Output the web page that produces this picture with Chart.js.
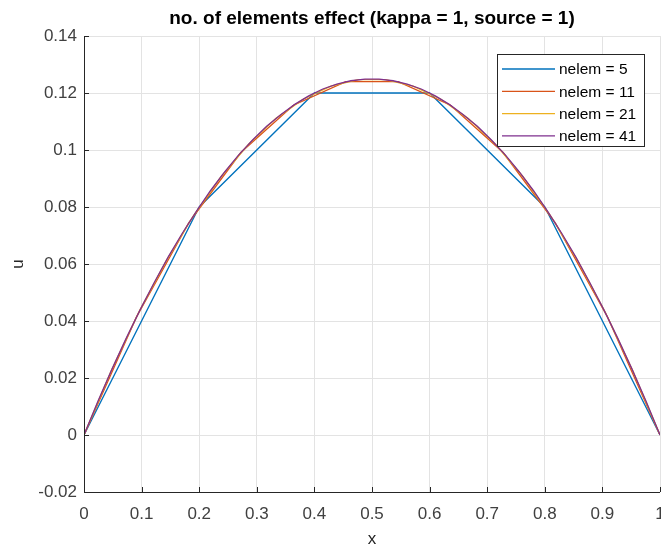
<!DOCTYPE html>
<html>
<head>
<meta charset="utf-8">
<script src="https://cdn.jsdelivr.net/npm/chart.js@4.4.0/dist/chart.umd.min.js"></script>
<style>
  html, body { margin: 0; padding: 0; background: #fff; }
  #wrap { width: 661px; height: 548px; }
</style>
</head>
<body>
<div id="wrap"><canvas id="myChart" width="661" height="548"></canvas></div>
<script>
// node positions and values
const x5 = [0, 0.2, 0.4, 0.6, 0.8, 1]
const u5 = [0, 0.08, 0.12, 0.12, 0.08, 0]

const x11 = [0, 0.0909, 0.1818, 0.2727, 0.3636, 0.4545, 0.5455, 0.6364, 0.7273, 0.8182, 0.9091, 1]
const u11 = [0, 0.0413, 0.0744, 0.0992, 0.1157, 0.1240, 0.1240, 0.1157, 0.0992, 0.0744, 0.0413, 0]

const x21 = [0, 0.0476, 0.0952, 0.1429, 0.1905, 0.2381, 0.2857, 0.3333, 0.3810, 0.4286, 0.4762,
  0.5238, 0.5714, 0.6190, 0.6667, 0.7143, 0.7619, 0.8095, 0.8571, 0.9048, 0.9524, 1]
const u21 = [0, 0.0227, 0.0431, 0.0612, 0.0771, 0.0907, 0.1020, 0.1111, 0.1179, 0.1224, 0.1247,
  0.1247, 0.1224, 0.1179, 0.1111, 0.1020, 0.0907, 0.0771, 0.0612, 0.0431, 0.0227, 0]

const x41 = [0, 0.0244, 0.0488, 0.0732, 0.0976, 0.1220, 0.1463, 0.1707, 0.1951, 0.2195, 0.2439,
  0.2683, 0.2927, 0.3171, 0.3415, 0.3659, 0.3902, 0.4146, 0.4390, 0.4634, 0.4878,
  0.5122, 0.5366, 0.5610, 0.5854, 0.6098, 0.6341, 0.6585, 0.6829, 0.7073, 0.7317,
  0.7561, 0.7805, 0.8049, 0.8293, 0.8537, 0.8780, 0.9024, 0.9268, 0.9512, 0.9756, 1]
const u41 = [0, 0.0119, 0.0232, 0.0339, 0.0440, 0.0535, 0.0625, 0.0708, 0.0785, 0.0857, 0.0922,
  0.0982, 0.1035, 0.1083, 0.1124, 0.1160, 0.1190, 0.1214, 0.1231, 0.1243, 0.1249,
  0.1249, 0.1243, 0.1231, 0.1214, 0.1190, 0.1160, 0.1124, 0.1083, 0.1035, 0.0982,
  0.0922, 0.0857, 0.0785, 0.0708, 0.0625, 0.0535, 0.0440, 0.0339, 0.0232, 0.0119, 0]

const seriesNames = ['nelem = 5', 'nelem = 11', 'nelem = 21', 'nelem = 41']
const seriesColors = ['#0072BD', '#D95319', '#EDB120', '#7E2F8E']
const titleText = 'no. of elements effect (kappa = 1, source = 1)'

const xTicks = [0, 0.1, 0.2, 0.3, 0.4, 0.5, 0.6, 0.7, 0.8, 0.9, 1]
const yTicks = [-0.02, 0, 0.02, 0.04, 0.06, 0.08, 0.1, 0.12, 0.14]

const FONT = '"Liberation Sans", Arial, sans-serif'

// zip x and u into points
function pts(xs, us) {
  return xs.map((v, i) => ({ x: v, y: us[i] }))
}
const allX = [x5, x11, x21, x41]
const allU = [u5, u11, u21, u41]

// later series drawn on top like matlab does
const datasets = seriesNames.map((name, i) => ({
  label: name,
  data: pts(allX[i], allU[i]),
  borderColor: seriesColors[i],
  backgroundColor: seriesColors[i],
  borderWidth: 1.3,
  pointRadius: 0,
  tension: 0,
  fill: false,
  order: seriesNames.length - i
}))

// title, axis labels, inward ticks and the legend box
const matlabBits = {
  id: 'matlabBits',
  afterDraw(chart) {
    const ctx = chart.ctx
    const a = chart.chartArea
    const sx = chart.scales.x, sy = chart.scales.y
    ctx.save()

    // axis lines
    ctx.strokeStyle = '#262626'
    ctx.lineWidth = 1
    ctx.beginPath()
    ctx.moveTo(a.left + 0.5, a.top)
    ctx.lineTo(a.left + 0.5, a.bottom + 0.5)
    ctx.lineTo(a.right, a.bottom + 0.5)
    ctx.stroke()

    // inward ticks
    ctx.beginPath()
    xTicks.forEach(t => {
      const px = Math.round(sx.getPixelForValue(t)) + 0.5
      ctx.moveTo(px, a.bottom)
      ctx.lineTo(px, a.bottom - 5)
    })
    yTicks.forEach(t => {
      const py = Math.round(sy.getPixelForValue(t)) + 0.5
      ctx.moveTo(a.left, py)
      ctx.lineTo(a.left + 5, py)
    })
    ctx.stroke()

    // title
    ctx.fillStyle = '#000'
    ctx.font = 'bold 19px ' + FONT
    ctx.textAlign = 'center'
    ctx.textBaseline = 'middle'
    ctx.fillText(titleText, (a.left + a.right) / 2, 19)

    // axis labels
    ctx.fillStyle = '#262626'
    ctx.font = '17px ' + FONT
    ctx.fillText('x', (a.left + a.right) / 2, 539)
    ctx.save()
    ctx.translate(18, (a.top + a.bottom) / 2)
    ctx.rotate(-Math.PI / 2)
    ctx.fillText('u', 0, 0)
    ctx.restore()

    // legend
    const bx = 497, by = 54, bw = 147, bh = 92
    ctx.fillStyle = '#fff'
    ctx.fillRect(bx, by, bw, bh)
    ctx.strokeStyle = '#262626'
    ctx.lineWidth = 1
    ctx.strokeRect(bx + 0.5, by + 0.5, bw, bh)
    ctx.font = '15.5px ' + FONT
    ctx.textAlign = 'left'
    chart.data.datasets.forEach((ds, i) => {
      const yy = by + 15 + i * 22.3
      ctx.strokeStyle = ds.borderColor
      ctx.lineWidth = 1.3
      ctx.beginPath()
      ctx.moveTo(502, yy)
      ctx.lineTo(555, yy)
      ctx.stroke()
      ctx.fillStyle = '#000'
      ctx.fillText(ds.label, 559, yy + 1)
    })
    ctx.restore()
  }
}

new Chart(document.getElementById('myChart'), {
  type: 'line',
  data: { datasets: datasets },
  options: {
    responsive: false,
    animation: false,
    layout: { padding: { top: 36, right: 1, bottom: 0, left: 0 }, autoPadding: false },
    plugins: { legend: { display: false }, title: { display: false }, tooltip: { enabled: false } },
    scales: {
      x: {
        type: 'linear', min: 0, max: 1,
        afterBuildTicks: s => { s.ticks = xTicks.map(v => ({ value: v })) },
        ticks: { font: { size: 17, family: FONT }, color: '#404040', padding: 12, maxRotation: 0, autoSkip: false,
          callback: v => String(v) },
        grid: { color: '#e3e3e3', drawTicks: false },
        border: { display: false },
        afterFit: s => { s.height = 56; s.paddingLeft = 0; s.paddingRight = 0 }
      },
      y: {
        type: 'linear', min: -0.02, max: 0.14,
        afterBuildTicks: s => { s.ticks = yTicks.map(v => ({ value: v })) },
        ticks: { font: { size: 17, family: FONT }, color: '#404040', padding: 7, autoSkip: false,
          callback: v => String(v) },
        grid: { color: '#e3e3e3', drawTicks: false },
        border: { display: false },
        afterFit: s => { s.width = 84; s.paddingTop = 0; s.paddingBottom = 0 }
      }
    }
  },
  plugins: [matlabBits]
})
</script>
</body>
</html>
